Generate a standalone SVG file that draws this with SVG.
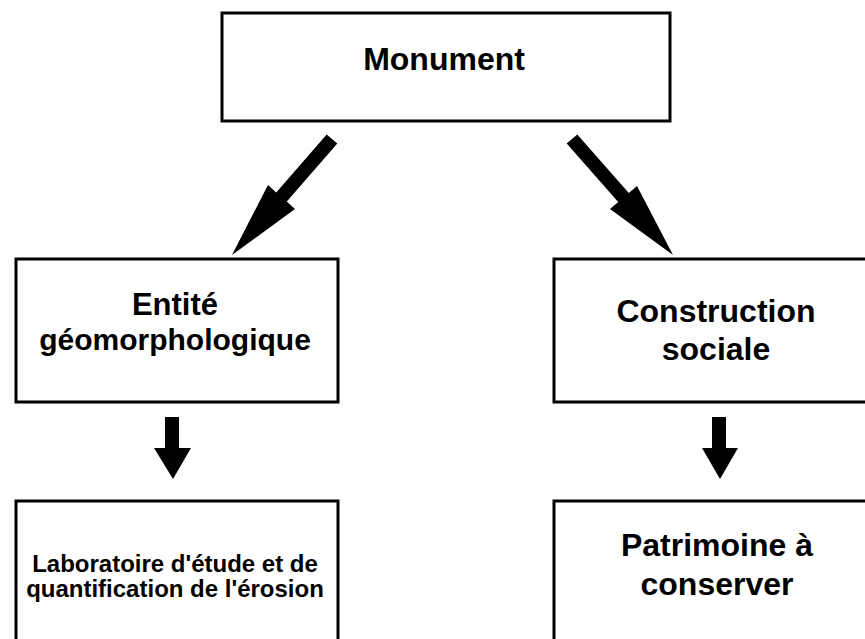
<svg xmlns="http://www.w3.org/2000/svg" width="865" height="639" viewBox="0 0 865 639">
<style>
.box{fill:#fff;stroke:#000;stroke-width:3}
.t{font-family:"Liberation Sans",Arial,sans-serif;font-weight:bold;fill:#000;text-anchor:middle}
.arr{fill:#000;stroke:none}
</style>
<rect width="865" height="639" fill="#fff"/>
<g id="monument">
<rect class="box" x="222" y="13" width="448" height="108"/>
<text class="t" x="444" y="70" font-size="32">Monument</text>
</g>
<g id="entite">
<rect class="box" x="16" y="259" width="322" height="143"/>
<text class="t" x="175" y="315" font-size="31">Entité</text>
<text class="t" x="175" y="350" font-size="30">géomorphologique</text>
</g>
<g id="construction">
<rect class="box" x="554" y="259" width="330" height="143"/>
<text class="t" x="716" y="322" font-size="32">Construction</text>
<text class="t" x="716" y="360" font-size="32">sociale</text>
</g>
<g id="laboratoire">
<rect class="box" x="16" y="501" width="322" height="160"/>
<text class="t" x="175" y="572" font-size="24">Laboratoire d'étude et de</text>
<text class="t" x="175" y="597" font-size="24">quantification de l'érosion</text>
</g>
<g id="patrimoine">
<rect class="box" x="554" y="501" width="330" height="160"/>
<text class="t" x="717" y="556" font-size="32">Patrimoine à</text>
<text class="t" x="717" y="595" font-size="32">conserver</text>
</g>
<g id="connectors">
<polygon class="arr" points="326.7,134.4 337.3,143.6 286.8,201.6 295,209 232,255 268,185 276.2,192.4"/>
<polygon class="arr" points="566.7,143.6 577.3,134.4 628.8,192.9 637,186 673,255 610,209 618.2,202.1"/>
<polygon class="arr" points="165,417 179,417 179,448 191,448 173,479 154,448 165,448"/>
<polygon class="arr" points="712,417 726,417 726,448 738,448 720,479 702,448 712,448"/>
</g>
</svg>
